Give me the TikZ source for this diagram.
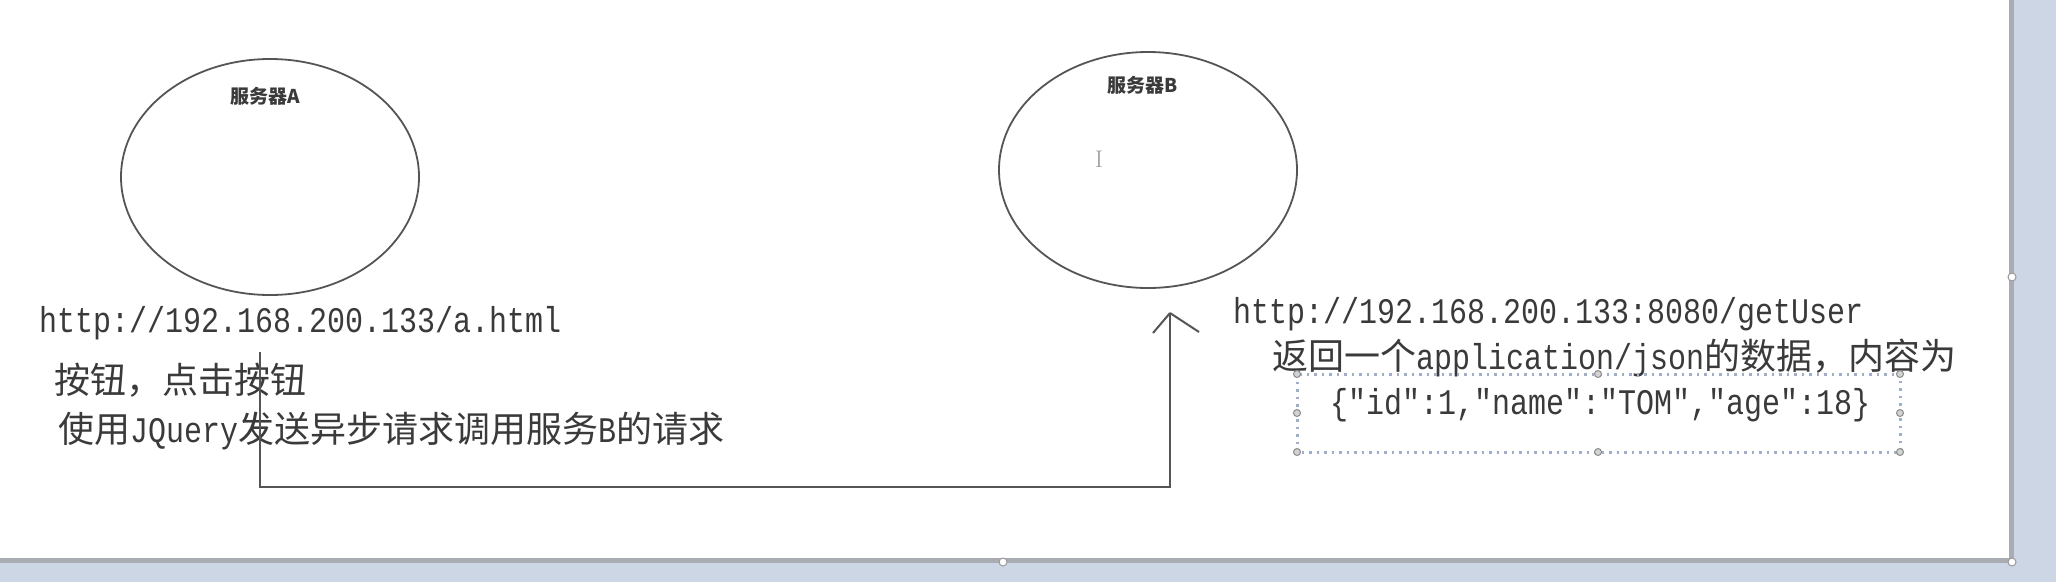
\documentclass[tikz,border=0pt]{standalone}
\usepackage{fontspec}
\newfontfamily\cjk{Noto Sans CJK SC}
\newfontfamily\mono[FakeStretch=0.8333]{Liberation Mono}
\definecolor{txt}{HTML}{3A3A3A}
\definecolor{ln}{HTML}{555555}
\definecolor{bgblue}{HTML}{CDD6E4}
\definecolor{pageedge}{HTML}{A9ADB3}
\definecolor{selblue}{HTML}{9FAECB}
\tikzset{
  server/.style={draw=ln, line width=1.8pt, ellipse},
  lbl/.style={inner sep=0pt, anchor=center, text=txt, font=\cjk\fontsize{19}{21}\selectfont\bfseries},
  body/.style={inner sep=0pt, anchor=west, text=txt, font=\fontsize{36}{40}\selectfont},
  conn/.style={draw=ln, line width=2pt},
  handle/.style={circle, draw=gray!90, fill=gray!35, line width=1pt, inner sep=0pt, minimum size=7pt},
}
\begin{document}
\begin{tikzpicture}[x=1pt,y=-1pt]
\useasboundingbox (0,0) rectangle (2056,582);
% background and page
\fill[bgblue] (0,0) rectangle (2056,582);
\fill[white] (0,0) rectangle (2011,560);
\draw[pageedge, line width=5pt] (2011,0) -- (2011,560) -- (0,560);
\node[handle, draw=gray!80, fill=white, minimum size=8pt] (hb) at (1003,562) {};
\node[handle, draw=gray!80, fill=white, minimum size=8pt] (hr) at (2012,277) {};
\node[handle, draw=gray!80, fill=white, minimum size=8pt] (hc) at (2012,562) {};
% servers
\draw[conn, line width=1.8pt] (270,177) ellipse [x radius=149, y radius=118];
\coordinate (srvA) at (270,177);
\draw[conn, line width=1.8pt] (1148,170) ellipse [x radius=149, y radius=118];
\coordinate (srvB) at (1148,170);
\node[lbl] (la) at (265,96) {服务器A};
\node[lbl] (lb) at (1143,85) {服务器B};
% text cursor
\node[inner sep=0pt, text=gray!80, font=\fontsize{24}{24}\selectfont] (cur) at (1099,159) {I};
% left texts
\node[body] (urlA) at (39,323) {\mono http://192.168.200.133/a.html};
\node[body] (btn) at (54,380) {\cjk 按钮，点击按钮};
\node[body] (use) at (58,431) {{\cjk 使用}{\mono JQuery}{\cjk 发送异步请求调用服务}{\mono B}{\cjk 的请求}};
% right texts
\node[body] (urlB) at (1233,314) {\mono http://192.168.200.133:8080/getUser};
\node[body] (ret) at (1272,358) {{\cjk 返回一个}{\mono application/json}{\cjk 的数据，内容为}};
% selection box
\draw[selblue, line width=3pt, dash pattern=on 2.5pt off 5pt] (1297,374) rectangle (1900,452);
\foreach \xx in {1297,1598,1900}{
  \node[handle] at (\xx,374) {};
  \node[handle] at (\xx,452) {};
}
\node[handle] at (1297,413) {};
\node[handle] at (1900,413) {};
\node[body] (json) at (1330,405) {\mono \{"id":1,"name":"TOM","age":18\}};
% connector
\coordinate (s) at (260,352);
\coordinate (t) at (1170,313);
\coordinate (bend) at (260,487);
\draw[conn] (s) -- (bend) -| (t);
\draw[conn] (t) -- ++(-17,20);
\draw[conn] (t) -- ++(29,19);
\end{tikzpicture}
\end{document}
